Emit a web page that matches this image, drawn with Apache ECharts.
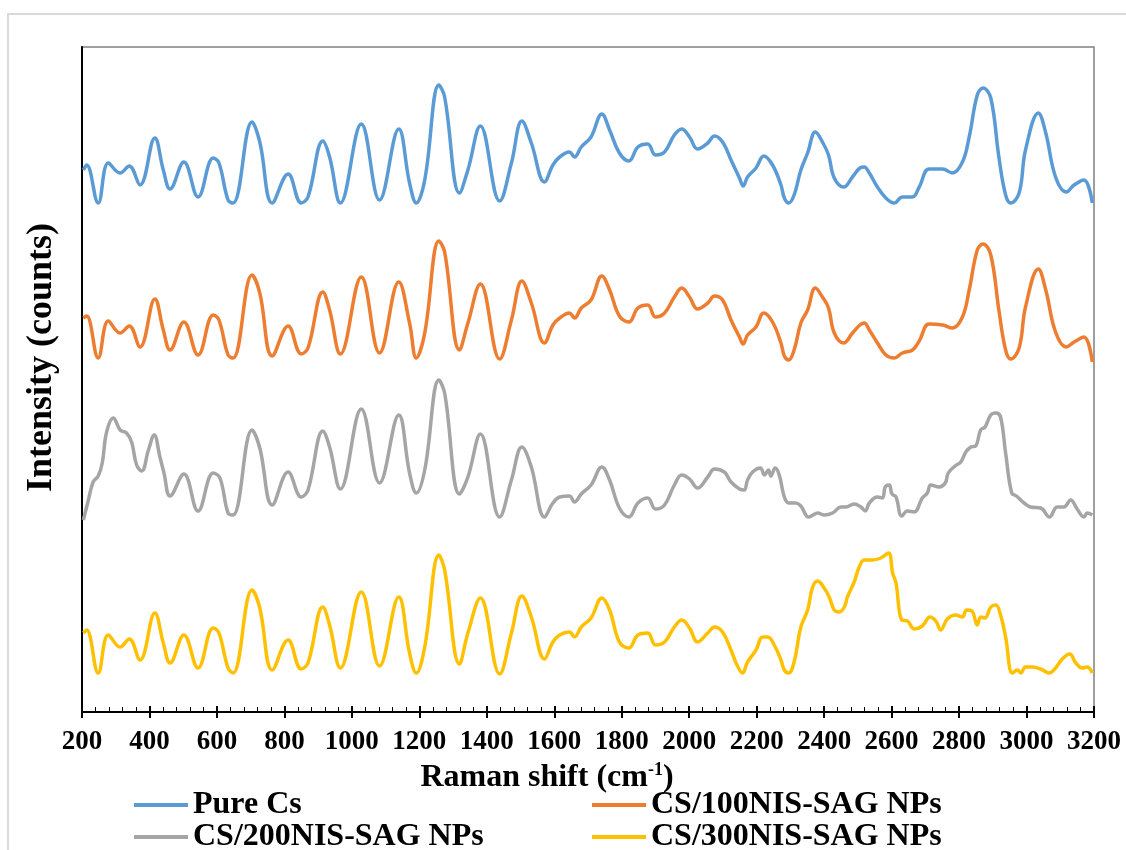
<!DOCTYPE html>
<html>
<head>
<meta charset="utf-8">
<script src="https://cdn.jsdelivr.net/npm/echarts@6/dist/echarts.min.js"></script>
<style>
html,body{margin:0;padding:0;background:#fff;}
#chart{width:1126px;height:850px;}
</style>
</head>
<body>
<div id="chart"></div>
<script>
const xTicks = [200,400,600,800,1000,1200,1400,1600,1800,2000,2200,2400,2600,2800,3000,3200];
const seriesNames = ['Pure Cs','CS/100NIS-SAG NPs','CS/200NIS-SAG NPs','CS/300NIS-SAG NPs'];
const colors = ['#5B9BD5','#ED7D31','#A5A5A5','#FFC000'];

const pureCs = [[204,542],[214,547],[248,509],[278,549],[313,539],[340,546],[372,527],[416,574],[441,542],[461,523],[502,550],[544,515],[589,554],[606,549],[633,512],[648,509],[704,590],[727,570],[764,509],[811,538],[850,509],[870,515],[914,571],[934,555],[966,509],[1028,588],[1082,512],[1139,583],[1171,529],[1191,509],[1216,532],[1258,627],[1275,615],[1319,519],[1344,542],[1381,586],[1438,511],[1473,549],[1504,591],[1532,569],[1571,530],[1596,547],[1616,555],[1645,560],[1660,555],[1680,565],[1709,575],[1741,598],[1764,582],[1793,559],[1821,551],[1848,565],[1877,568],[1900,557],[1927,560],[1956,577],[1978,583],[2001,575],[2025,563],[2055,569],[2075,576],[2099,570],[2124,552],[2149,534],[2160,526],[2173,535],[2198,544],[2221,556],[2247,547],[2272,527],[2282,514],[2295,509],[2311,517],[2331,542],[2351,559],[2374,580],[2395,570],[2413,557],[2430,534],[2458,525],[2484,535],[2506,544],[2519,545],[2534,539],[2558,525],[2583,514],[2608,509],[2632,515],[2662,515],[2682,525],[2711,543],[2751,543],[2780,539],[2810,550],[2830,575],[2854,617],[2871,624],[2894,614],[2918,555],[2938,517],[2953,509],[2978,519],[2997,562],[3035,599],[3057,579],[3086,535],[3118,520],[3141,527],[3170,532],[3195,509]];

const cs100 = [[204,394],[214,396],[248,354],[278,391],[313,379],[340,386],[372,365],[416,413],[441,382],[461,362],[502,390],[544,357],[589,397],[606,392],[633,357],[648,354],[704,437],[727,419],[764,356],[811,386],[850,358],[870,364],[914,420],[934,402],[966,358],[1028,435],[1082,359],[1139,430],[1171,389],[1191,354],[1216,379],[1258,471],[1275,460],[1319,362],[1344,389],[1381,428],[1438,353],[1473,392],[1504,431],[1532,409],[1571,369],[1596,387],[1616,394],[1645,399],[1660,394],[1680,404],[1709,412],[1741,436],[1764,422],[1793,396],[1821,390],[1848,404],[1877,407],[1900,395],[1927,399],[1956,415],[1978,424],[2001,415],[2025,403],[2055,409],[2075,416],[2099,412],[2124,392],[2149,375],[2160,368],[2173,377],[2198,385],[2221,399],[2247,390],[2272,369],[2282,356],[2295,352],[2311,362],[2331,389],[2351,402],[2374,424],[2395,415],[2413,404],[2430,379],[2458,369],[2484,379],[2506,387],[2519,389],[2534,382],[2558,369],[2583,357],[2608,354],[2632,359],[2662,362],[2682,371],[2711,388],[2751,387],[2780,384],[2810,395],[2830,422],[2854,462],[2871,468],[2894,457],[2918,402],[2938,362],[2953,353],[2978,364],[2997,405],[3035,443],[3057,422],[3086,380],[3118,365],[3141,370],[3170,375],[3195,350]];

const cs200 = [[204,192],[219,212],[233,230],[248,236],[260,249],[273,280],[293,294],[313,282],[332,279],[347,270],[362,247],[377,241],[397,262],[414,277],[431,255],[443,239],[461,216],[502,238],[544,201],[589,239],[609,234],[633,199],[648,197],[704,282],[727,264],[764,207],[811,240],[850,215],[870,222],[914,281],[934,265],[966,223],[1028,303],[1082,229],[1139,297],[1171,239],[1191,219],[1216,242],[1258,332],[1275,319],[1319,218],[1344,235],[1381,278],[1438,195],[1473,232],[1504,265],[1532,245],[1571,195],[1596,209],[1616,215],[1645,216],[1660,210],[1680,218],[1709,227],[1741,245],[1764,232],[1793,204],[1821,195],[1848,209],[1877,214],[1900,203],[1927,207],[1956,227],[1978,237],[2001,233],[2025,224],[2055,235],[2075,243],[2104,240],[2124,230],[2149,223],[2163,222],[2173,232],[2188,240],[2211,244],[2223,237],[2235,242],[2242,236],[2255,244],[2267,237],[2282,215],[2295,209],[2316,209],[2331,206],[2354,195],[2381,199],[2400,197],[2425,199],[2450,205],[2464,205],[2489,208],[2509,205],[2522,201],[2534,209],[2558,215],[2573,214],[2581,225],[2593,227],[2601,218],[2613,215],[2630,196],[2647,201],[2667,200],[2691,214],[2706,219],[2716,227],[2741,225],[2759,229],[2768,239],[2788,246],[2805,250],[2820,260],[2835,265],[2849,266],[2864,282],[2877,285],[2894,297],[2909,299],[2923,295],[2938,259],[2956,219],[2970,216],[2993,209],[3012,205],[3042,204],[3068,195],[3091,205],[3111,205],[3131,212],[3150,203],[3170,195],[3180,199],[3195,197]];

const cs300 = [[204,79],[214,82],[248,39],[278,77],[313,65],[340,73],[372,52],[416,99],[441,69],[461,49],[502,77],[544,44],[589,84],[606,79],[633,44],[648,39],[704,122],[727,104],[764,42],[811,72],[850,43],[870,49],[914,105],[934,87],[966,44],[1028,120],[1082,46],[1139,115],[1171,59],[1191,39],[1216,65],[1258,157],[1275,142],[1319,48],[1344,79],[1381,114],[1438,38],[1473,79],[1504,116],[1532,95],[1571,53],[1596,70],[1616,77],[1645,80],[1660,75],[1680,85],[1709,94],[1741,114],[1764,102],[1793,70],[1821,64],[1848,77],[1877,79],[1900,67],[1927,70],[1956,85],[1978,92],[2001,84],[2025,70],[2055,79],[2075,85],[2099,80],[2124,62],[2139,49],[2158,39],[2173,50],[2198,62],[2218,75],[2233,75],[2252,67],[2272,52],[2282,42],[2295,39],[2311,50],[2331,85],[2351,102],[2366,125],[2381,131],[2400,124],[2415,115],[2430,102],[2445,100],[2460,105],[2469,115],[2489,130],[2504,145],[2519,152],[2543,152],[2568,154],[2591,159],[2603,139],[2613,129],[2630,92],[2647,91],[2667,83],[2691,86],[2714,95],[2731,91],[2746,82],[2765,93],[2790,97],[2810,95],[2822,102],[2838,101],[2854,87],[2864,95],[2877,94],[2894,105],[2909,107],[2923,97],[2938,75],[2958,39],[2973,42],[2983,39],[2997,45],[3017,45],[3042,43],[3067,39],[3086,44],[3106,53],[3128,58],[3146,49],[3165,44],[3180,45],[3195,39]];

const FONT = '"Liberation Serif", "Times New Roman", serif';
const chart = echarts.init(document.getElementById('chart'), null, {renderer:'canvas'});
const allData = [pureCs, cs100, cs200, cs300];

const legendPos = [[134, 789], [592, 789], [134, 821], [592, 821]];
const legends = seriesNames.map((n, i) => ({
  data: [n], orient: 'horizontal', left: legendPos[i][0], top: legendPos[i][1],
  icon: 'rect', itemWidth: 54, itemHeight: 4, padding: 0,
  textStyle: {fontFamily: FONT, fontWeight: 'bold', fontSize: 32, color: '#000', lineHeight: 32}
}));

const option = {
  backgroundColor: '#ffffff',
  animation: false,
  color: colors,
  graphic: [{
    type: 'rect', silent: true, z: -10,
    shape: {x: 8, y: 14, width: 1140, height: 860},
    style: {fill: 'none', stroke: '#d9d9d9', lineWidth: 2}
  }],
  grid: {left: 82, right: 32, top: 47, bottom: 138, show: true, borderColor: '#808080', borderWidth: 1.5, backgroundColor: 'transparent'},
  legend: legends,
  xAxis: [{
    type: 'value', min: xTicks[0], max: xTicks[xTicks.length-1], interval: 200,
    position: 'bottom',
    axisLine: {show: true, lineStyle: {color: '#000', width: 2}},
    axisTick: {show: true, inside: true, length: 6, lineStyle: {color: '#000', width: 2}},
    minorTick: {show: true, splitNumber: 5, length: 5, lineStyle: {color: '#000', width: 1}},
    splitLine: {show: false},
    axisLabel: {margin: 17, fontFamily: FONT, fontWeight: 'bold', fontSize: 27, color: '#000', formatter: v => String(v)},
    name: '{a|Raman shift (cm}{s|-1}{a|)}',
    nameLocation: 'middle', nameGap: 44,
    nameTextStyle: {padding: [0, 82, 0, 0], rich: {
      a: {fontFamily: FONT, fontWeight: 'bold', fontSize: 32, color: '#000', lineHeight: 34},
      s: {fontFamily: FONT, fontWeight: 'bold', fontSize: 18, color: '#000', verticalAlign: 'top', lineHeight: 34, padding: [0,0,14,0]}
    }}
  },{
    type: 'value', min: xTicks[0], max: xTicks[xTicks.length-1], interval: 200,
    position: 'bottom', offset: 0,
    axisLine: {show: false},
    axisTick: {show: true, inside: false, length: 6, lineStyle: {color: '#000', width: 2}},
    axisLabel: {show: false}, splitLine: {show: false}
  }],
  yAxis: {
    type: 'value', min: 0, max: 665,
    axisLine: {show: true, lineStyle: {color: '#000', width: 2}},
    axisTick: {show: false}, axisLabel: {show: false}, splitLine: {show: false},
    name: 'Intensity (counts)', nameLocation: 'middle', nameGap: 22,
    nameTextStyle: {fontFamily: FONT, fontWeight: 'bold', fontSize: 36, color: '#000', padding: [0, 0, 0, 44]}
  },
  series: seriesNames.map((n, i) => ({
    name: n, type: 'line', data: allData[i], xAxisIndex: 0,
    smooth: 0.4, symbol: 'none', showSymbol: false,
    lineStyle: {width: 3.5, color: colors[i]},
    itemStyle: {color: colors[i]}
  }))
};
chart.setOption(option);
</script>
</body>
</html>
